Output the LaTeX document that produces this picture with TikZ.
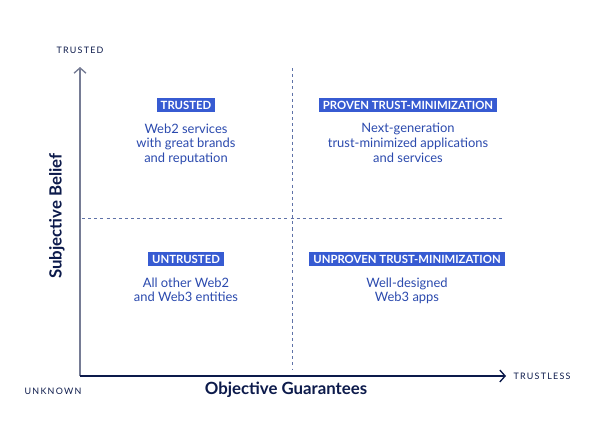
\documentclass[tikz,border=0pt]{standalone}
\usepackage{fontspec}
\setmainfont{Lato}
\newfontfamily\spacedfont[LetterSpace=14]{Lato}
\usetikzlibrary{positioning, arrows.meta}

\definecolor{navy}{HTML}{0C1A4B}
\definecolor{badgeblue}{HTML}{375BD2}
\definecolor{blurbblue}{HTML}{2B4AAE}
\definecolor{axisgray}{HTML}{767C95}
\definecolor{dashblue}{HTML}{5F72A8}

\tikzset{
  badge/.style={fill=badgeblue, text=white, inner xsep=3pt, inner ysep=2pt,
    font=\bfseries\fontsize{8.5}{9}\selectfont},
  blurb/.style={text=blurbblue, align=center, below=5pt of #1,
    font=\fontsize{9.7}{10.9}\selectfont},
  endlabel/.style={text=navy, font=\spacedfont\fontsize{6.7}{7}\selectfont},
  axistitle/.style={text=navy, font=\bfseries\fontsize{12.6}{14}\selectfont},
  divider/.style={dashblue, line width=0.6pt, dash pattern=on 2.3pt off 2.3pt},
  axisline/.style={line width=1pt, -{Straight Barb[length=4pt, width=9pt]}},
}

\begin{document}
\begin{tikzpicture}[x=0.75pt, y=-0.75pt]
\useasboundingbox[fill=white] (0,0) rectangle (600,446);

% axes
\coordinate (origin) at (80,376);
\coordinate (ytip) at (80,67);
\coordinate (xtip) at (506,376);
\draw[axisline, axisgray] (origin) -- (ytip);
\draw[axisline, navy] (origin) -- (xtip);

\node[endlabel] (trusted-end) at (80,50) {TRUSTED};
\node[endlabel] (unknown-end) at (53,391) {UNKNOWN};
\node[endlabel] (trustless-end) at (542,376) {TRUSTLESS};
\node[axistitle] (x-title) at (286,390) {Objective Guarantees};
\node[axistitle, rotate=90] (y-title) at (57,216) {Subjective Belief};

% quadrant dividers
\coordinate (v-top) at (292,68);
\coordinate (v-bottom) at (292,370);
\coordinate (h-left) at (82,218);
\coordinate (h-right) at (503,218);
\draw[divider] (v-top) -- (v-bottom);
\draw[divider] (h-left) -- (h-right);

% quadrants
\node[badge] (trusted) at (186,105) {TRUSTED};
\node[blurb=trusted] (trusted-txt) {Web2 services\\with great brands\\and reputation};

\node[badge] (proven) at (408,105) {PROVEN TRUST-MINIMIZATION};
\node[blurb=proven] (proven-txt) {Next-generation\\trust-minimized applications\\and services};

\node[badge] (untrusted) at (186,259) {UNTRUSTED};
\node[blurb=untrusted] (untrusted-txt) {All other Web2\\and Web3 entities};

\node[badge] (unproven) at (407,259) {UNPROVEN TRUST-MINIMIZATION};
\node[blurb=unproven] (unproven-txt) {Well-designed\\Web3 apps};

\end{tikzpicture}
\end{document}
